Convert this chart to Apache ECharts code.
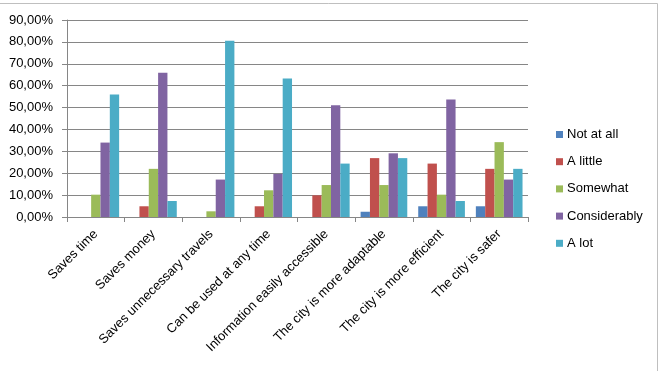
<!DOCTYPE html>
<html>
<head>
<meta charset="utf-8">
<script src="https://cdn.jsdelivr.net/npm/echarts@6/dist/echarts.min.js"></script>
<style>
html,body{margin:0;padding:0;background:#fff;}
#chart{width:663px;height:371px;}
</style>
</head>
<body>
<div id="chart"></div>
<script>
var categories=['Saves time','Saves money','Saves unnecessary travels','Can be used at any time','Information easily accessible','The city is more adaptable','The city is more efficient','The city is safer'];
var seriesNames=['Not at all','A little','Somewhat','Considerably','A lot'];
var notAtAll=[0,0,0,0,0,2.4,4.9,4.9];
var aLittle=[0,4.9,0,4.9,9.9,26.9,24.4,22.0];
var somewhat=[10.2,22.0,2.6,12.2,14.6,14.6,10.2,34.2];
var considerably=[34.0,65.9,17.1,19.7,51.1,29.1,53.7,17.1];
var aLot=[56.0,7.3,80.5,63.3,24.4,26.9,7.3,22.0];
var colors=['#4F81BD','#C0504D','#9BBB59','#8064A2','#4BACC6'];

var myChart=echarts.init(document.getElementById('chart'));
var allData=[notAtAll,aLittle,somewhat,considerably,aLot];
var series=[];
for(var i=0;i<seriesNames.length;i++){
	series.push({
		name:seriesNames[i],
		type:'bar',
		data:allData[i],
		barGap:0,
		barCategoryGap:'19%',
		itemStyle:{color:colors[i]}
	});
}
var font='"Liberation Sans", Arial, sans-serif';
var option={
	animation:false,
	color:colors,
	textStyle:{fontFamily:font},
	grid:{left:67,right:135,top:20,bottom:154,containLabel:false},
	legend:{
		orient:'vertical',
		left:551,
		top:123,
		itemWidth:7,
		itemHeight:7,
		itemGap:14.2,
		icon:'rect',
		textStyle:{fontSize:13,color:'#000',fontFamily:font,padding:[0,0,0,-1]},
		data:seriesNames
	},
	xAxis:[{
		type:'category',
		data:categories,
		axisLine:{lineStyle:{color:'#868686',width:1}},
		axisTick:{show:true,length:5,lineStyle:{color:'#868686'}},
		axisLabel:{rotate:45,fontSize:13,color:'#000',margin:15,interval:0,fontFamily:font}
	}],
	yAxis:[{
		type:'value',
		min:0,
		max:90,
		interval:10,
		axisLine:{show:true,lineStyle:{color:'#868686'}},
		axisTick:{show:true,length:5,lineStyle:{color:'#868686'}},
		splitLine:{show:true,lineStyle:{color:'#868686',width:1}},
		axisLabel:{
			fontSize:13,color:'#000',margin:14,fontFamily:font,
			formatter:function(v){return v.toFixed(2).replace('.',',')+'%';}
		}
	}],
	graphic:[
		{type:'line',shape:{x1:0,y1:3.5,x2:657.5,y2:3.5},style:{stroke:'#bfbfbf',lineWidth:1}},
		{type:'line',shape:{x1:657.5,y1:3.5,x2:657.5,y2:371},style:{stroke:'#bfbfbf',lineWidth:1}}
	],
	series:series
};
myChart.setOption(option);
</script>
</body>
</html>
